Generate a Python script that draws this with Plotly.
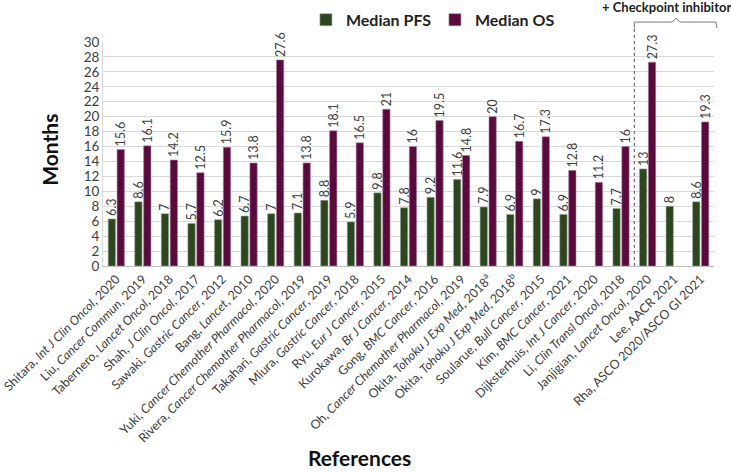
import plotly.graph_objects as go

references = [
    "Shitara, <i>Int J Clin Oncol</i>, 2020",
    "Liu, <i>Cancer Commun</i>, 2019",
    "Tabernero, <i>Lancet Oncol</i>, 2018",
    "Shah, <i>J Clin Oncol</i>, 2017",
    "Sawaki, <i>Gastric Cancer</i>, 2012",
    "Bang, <i>Lancet</i>, 2010",
    "Yuki, <i>Cancer Chemother Pharmacol</i>, 2020",
    "Rivera, <i>Cancer Chemother Pharmacol</i>, 2019",
    "Takahari, <i>Gastric Cancer</i>, 2019",
    "Miura, <i>Gastric Cancer</i>, 2018",
    "Ryu, <i>Eur J Cancer</i>, 2015",
    "Kurokawa, <i>Br J Cancer</i>, 2014",
    "Gong, <i>BMC Cancer</i>, 2016",
    "Oh, <i>Cancer Chemother Pharmacol</i>, 2019",
    "Okita, <i>Tohoku J Exp Med</i>, 2018<sup>a</sup>",
    "Okita, <i>Tohoku J Exp Med</i>, 2018<sup>b</sup>",
    "Soularue, <i>Bull Cancer</i>, 2015",
    "Kim, <i>BMC Cancer</i>, 2021",
    "Dijksterhuis, <i>Int J Cancer</i>, 2020",
    "Li, <i>Clin Transl Oncol</i>, 2018",
    "Janjigian, <i>Lancet Oncol</i>, 2020",
    "Lee, AACR 2021",
    "Rha, ASCO 2020/ASCO GI 2021",
]
median_pfs = [6.3, 8.6, 7, 5.7, 6.2, 6.7, 7, 7.1, 8.8, 5.9, 9.8, 7.8, 9.2, 11.6,
              7.9, 6.9, 9, 6.9, None, 7.7, 13, 8, 8.6]
median_os = [15.6, 16.1, 14.2, 12.5, 15.9, 13.8, 27.6, 13.8, 18.1, 16.5, 21, 16,
             19.5, 14.8, 20, 16.7, 17.3, 12.8, 11.2, 16, 27.3, None, 19.3]
y_ticks = list(range(0, 31, 2))

FONT = "Lato"
PFS_COLOR = "#2B4620"
OS_COLOR = "#5A0B3D"


def fmt(v):
    if v is None:
        return ""
    return ("%g" % v)


fig = go.Figure()
fig.add_trace(go.Bar(
    name="Median PFS", x=references, y=median_pfs,
    marker=dict(color=PFS_COLOR, line=dict(color="#9aa88f", width=0.6)),
    text=[fmt(v) for v in median_pfs], textposition="outside", textangle=-90,
    constraintext="none",
    textfont=dict(family=FONT, size=12.5, color="#404040"), cliponaxis=False,
))
fig.add_trace(go.Bar(
    name="Median OS", x=references, y=median_os,
    marker=dict(color=OS_COLOR, line=dict(color="#a87d98", width=0.6)),
    text=[fmt(v) for v in median_os], textposition="outside", textangle=-90,
    constraintext="none",
    textfont=dict(family=FONT, size=12.5, color="#404040"), cliponaxis=False,
))

n = len(references)
div_x = 20 / n  # boundary between Li and Janjigian groups

fig.update_layout(
    width=731, height=472,
    margin=dict(l=103, r=17, t=42, b=206),
    paper_bgcolor="white", plot_bgcolor="white",
    barmode="group", bargap=0.33, bargroupgap=0.18,
    font=dict(family=FONT, color="#404040"),
    showlegend=True,
    legend=dict(orientation="h", xref="container", yref="container",
                x=0.595, y=0.958, xanchor="center", yanchor="middle",
                font=dict(family=FONT, size=16, color="#222222", weight="bold"),
                itemwidth=30, entrywidth=84, traceorder="normal",
                bgcolor="rgba(0,0,0,0)"),
    xaxis=dict(tickangle=-45, tickfont=dict(family=FONT, size=12.5, color="#404040"),
               showline=True, linecolor="#bfbfbf", linewidth=1, ticks="",
               showgrid=False, automargin=False),
    yaxis=dict(range=[0, 30], tickvals=y_ticks, showgrid=True, gridcolor="#d9d9d9",
               gridwidth=1, showline=True, linecolor="#d9d9d9", linewidth=1,
               tickfont=dict(family=FONT, size=13.5, color="#404040"), ticks="",
               zeroline=False, automargin=False),
    shapes=[
        dict(type="line", xref="paper", yref="paper", x0=div_x, x1=div_x, y0=0, y1=1.062,
             line=dict(color="#555555", width=1, dash="dot")),
        dict(type="path", xref="paper", yref="paper",
             path="M %f 1.062 L %f 1.089 L %f 1.089 L %f 1.107 L %f 1.089 L 1.003 1.089 L 1.005 1.0625"
                  % (div_x, div_x, 0.932, 0.938, 0.944),
             line=dict(color="#777777", width=1)),
    ],
    annotations=[
        dict(text="<b>+ Checkpoint inhibitor</b>", xref="paper", yref="paper",
             x=0.922, y=1.156, xanchor="center", yanchor="middle", showarrow=False,
             font=dict(family=FONT, size=13, color="#222222")),
        dict(text="<b>Months</b>", xref="paper", yref="paper", x=-0.087, y=0.518,
             textangle=-90, showarrow=False, xanchor="center", yanchor="middle",
             font=dict(family=FONT, size=21, color="#111111")),
        dict(text="<b>References</b>", xref="paper", yref="paper", x=0.419, y=-0.853,
             showarrow=False, xanchor="center", yanchor="middle",
             font=dict(family=FONT, size=21, color="#111111")),
    ],
)

fig.write_html("out.html", config={"displayModeBar": False},
               post_script="document.body.style.margin='0';document.body.style.overflow='hidden';")
